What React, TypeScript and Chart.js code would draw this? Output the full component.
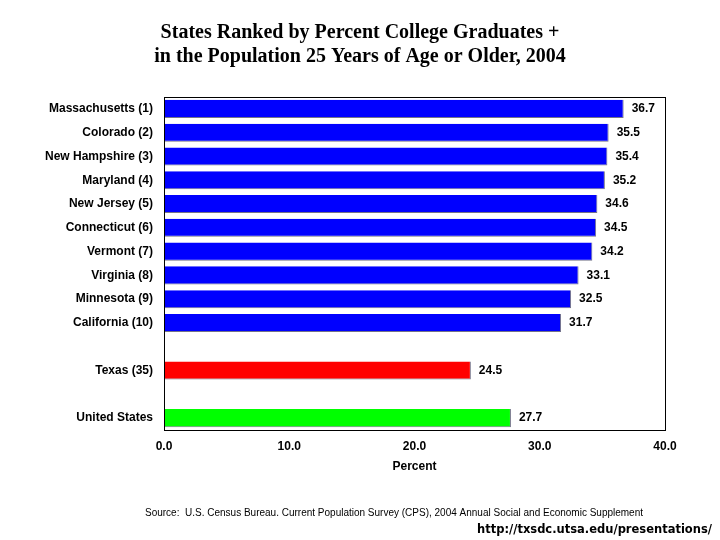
import { useEffect, useRef } from 'react';
import Chart from 'chart.js/auto';

// categories, blank strings are the gaps between the groups
const states = [
  'Massachusetts (1)',
  'Colorado (2)',
  'New Hampshire (3)',
  'Maryland (4)',
  'New Jersey (5)',
  'Connecticut (6)',
  'Vermont (7)',
  'Virginia (8)',
  'Minnesota (9)',
  'California (10)',
  '',
  'Texas (35)',
  '',
  'United States',
];

const percentGrads: (number | null)[] = [
  36.7, 35.5, 35.4, 35.2, 34.6, 34.5, 34.2, 33.1, 32.5, 31.7, null, 24.5, null, 27.7,
];

const xTicks = [0, 10, 20, 30, 40];

const barColors = [
  '#0000ff', '#0000ff', '#0000ff', '#0000ff', '#0000ff',
  '#0000ff', '#0000ff', '#0000ff', '#0000ff', '#0000ff',
  '#ffffff', '#ff0000', '#ffffff', '#00ff00',
];

const titleLines = [
  'States Ranked by Percent College Graduates +',
  'in the Population 25 Years of Age or Older, 2004',
];
const sourceText =
  'Source:  U.S. Census Bureau. Current Population Survey (CPS), 2004 Annual Social and Economic Supplement';
const urlText = 'http://txsdc.utsa.edu/presentations/';

const sansBold = 'bold 12px Arial, "Liberation Sans", sans-serif';

const decorations = {
  id: 'decorations',
  afterDatasetsDraw(chart: Chart) {
    const { ctx, chartArea } = chart;
    ctx.save();

    // plot frame
    ctx.strokeStyle = '#000';
    ctx.lineWidth = 1;
    ctx.strokeRect(
      Math.round(chartArea.left) + 0.5,
      Math.round(chartArea.top) + 0.5,
      Math.round(chartArea.right - chartArea.left),
      Math.round(chartArea.bottom - chartArea.top)
    );

    // value labels
    ctx.fillStyle = '#000';
    ctx.font = sansBold;
    ctx.textAlign = 'left';
    ctx.textBaseline = 'middle';
    const meta = chart.getDatasetMeta(0);
    meta.data.forEach((bar: any, i: number) => {
      const v = percentGrads[i];
      if (v == null) return;
      ctx.fillText(v.toFixed(1), bar.x + 8, bar.y);
    });

    // title
    ctx.textAlign = 'center';
    ctx.font = 'bold 20px "Liberation Serif", "Times New Roman", serif';
    ctx.fillText(titleLines[0], 360, 33);
    ctx.fillText(titleLines[1], 360, 57);

    // axis title
    ctx.font = sansBold;
    ctx.fillText('Percent', (chartArea.left + chartArea.right) / 2, 467);

    // footer
    ctx.font = '10px Arial, "Liberation Sans", sans-serif';
    ctx.fillText(sourceText, 394, 513);
    ctx.textAlign = 'right';
    ctx.font = 'bold 11.5px "DejaVu Sans", Verdana, sans-serif';
    ctx.fillText(urlText, 712, 530);

    ctx.restore();
  },
};

const App = () => {
  const chartRef = useRef<HTMLCanvasElement | null>(null);
  const chartInstance = useRef<Chart<'bar', (number | null)[], string> | null>(null);

  useEffect(() => {
    document.body.style.margin = '0';
    if (!chartRef.current) return;
    const ctx = chartRef.current.getContext('2d');
    if (!ctx) return;

    if (chartInstance.current) {
      chartInstance.current.destroy();
    }

    chartInstance.current = new Chart(ctx, {
      type: 'bar',
      data: {
        labels: states,
        datasets: [
          {
            label: 'Percent',
            data: percentGrads,
            backgroundColor: barColors,
            borderColor: 'rgba(0, 0, 40, 0.55)',
            borderWidth: { top: 0, left: 0, right: 1, bottom: 1 },
            borderSkipped: false,
            categoryPercentage: 1,
            barPercentage: 0.76,
          },
        ],
      },
      plugins: [decorations],
      options: {
        indexAxis: 'y',
        responsive: false,
        animation: false,
        layout: { padding: { top: 97, right: 55, bottom: 0, left: 0 } },
        plugins: {
          legend: { display: false },
          tooltip: { enabled: false },
        },
        scales: {
          x: {
            min: xTicks[0],
            max: xTicks[xTicks.length - 1],
            afterFit: (scale) => {
              scale.height = 110;
            },
            afterBuildTicks: (scale) => {
              scale.ticks = xTicks.map((v) => ({ value: v }));
            },
            grid: { display: false, drawTicks: false },
            border: { display: false },
            ticks: {
              padding: 9,
              color: '#000',
              font: { family: 'Arial, "Liberation Sans", sans-serif', size: 12, weight: 'bold' },
              callback: (v) => Number(v).toFixed(1),
            },
          },
          y: {
            afterFit: (scale) => {
              scale.width = 164;
            },
            grid: { display: false, drawTicks: false },
            border: { display: false },
            ticks: {
              padding: 11,
              color: '#000',
              autoSkip: false,
              font: { family: 'Arial, "Liberation Sans", sans-serif', size: 12, weight: 'bold' },
            },
          },
        },
      },
    });

    return () => {
      if (chartInstance.current) {
        chartInstance.current.destroy();
        chartInstance.current = null;
      }
    };
  }, []);

  return (
    <div style={{ width: '720px', height: '540px', background: '#fff' }}>
      <canvas ref={chartRef} width={720} height={540} />
    </div>
  );
};

export default App;
